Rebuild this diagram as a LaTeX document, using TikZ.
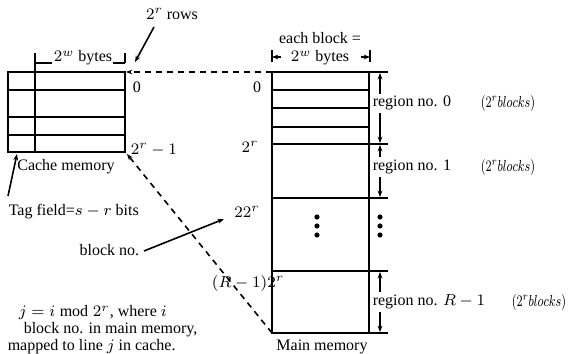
\documentclass[tikz,border=0pt]{standalone}
\usepackage{fontspec}
\setmainfont{Liberation Serif}
\usetikzlibrary{arrows.meta}
\begin{document}
\begin{tikzpicture}[x=0.5pt,y=-0.5pt, line width=0.8pt,
  lbl/.style={font=\fontsize{8}{9.6}\selectfont, inner sep=0pt},
  arr/.style={-{Stealth[length=3.2pt,width=2.4pt]}},
  dsh/.style={dash pattern=on 3pt off 2.5pt},
  dotc/.style={fill=black, draw=none}]
\useasboundingbox (0,0) rectangle (569,354);
% ---------- cache ----------
\coordinate (cTL) at (8,72);
\coordinate (cTR) at (125,72);
\coordinate (cBR) at (125,152);
\coordinate (cBL) at (8,152);
\draw (cTL) rectangle (cBR);
\foreach \yy in {90,117,135} \draw (8,\yy) -- (125,\yy);
\draw (35,53) -- (35,152);
\draw (125,53) -- (125,63);
\draw (35,63) -- (52,63);
\draw (113,63) -- (125,63);
\node[lbl] (cbytes) at (83,58) {$2^w$ bytes};
\node[lbl] (c0) at (137,87) {0};
\node[lbl, anchor=west] (clast) at (130,150) {$2^r-1$};
\node[lbl] (rows) at (172,14) {$2^r$ rows};
\coordinate (rowsS) at (154,27);
\coordinate (rowsT) at (135,62);
\draw[arr] (rowsS) -- (rowsT);
\node[lbl] (cachelbl) at (66,167) {Cache memory};
\coordinate (tagS) at (8,196);
\coordinate (tagT) at (17,154);
\draw[arr] (tagS) -- (tagT);
\node[lbl, anchor=west] (tag) at (8,212) {Tag field=$s-r$ bits};
% ---------- main memory ----------
\coordinate (mTL) at (272,72);
\coordinate (mBR) at (369,333);
\coordinate (mBL) at (272,333);
\draw (mTL) rectangle (mBR);
\foreach \yy in {90,108,127} \draw (272,\yy) -- (369,\yy);
\foreach \yy in {72,144,198,271,333} \draw (272,\yy) -- (388,\yy);
\node[lbl] (m0) at (257,87) {0};
\node[lbl] (m1) at (250,147) {$2^r$};
\node[lbl] (m2) at (247,212) {$22^r$};
\node[lbl, anchor=east] (m3) at (285,283) {$(R-1)2^r$};
\node[lbl] (mainlbl) at (322,347) {Main memory};
% each block
\node[lbl] (eb1) at (320,38) {each block =};
\node[lbl] (eb2) at (320,58) {$2^w$ bytes};
\draw (272,50) -- (272,62);
\draw (370,50) -- (370,62);
\draw[arr] (281,57) -- (272,57);
\draw[arr] (361,57) -- (370,57);
% dots
\foreach \yy in {217,226,235} {
  \fill[dotc] (317,\yy) circle (1.3pt);
  \fill[dotc] (380,\yy) circle (1.3pt);
}
% regions
\newcommand{\blk}{\scalebox{0.72}[1]{$(2^r blocks)$}}
\node[lbl, anchor=west] (r0) at (372,103) {region no. 0};
\node[lbl, anchor=west] (r0b) at (480,103) {\blk};
\node[lbl, anchor=west] (r1) at (372,167) {region no. 1};
\node[lbl, anchor=west] (r1b) at (480,167) {\blk};
\node[lbl, anchor=west] (rR) at (372,302) {region no. $R-1$};
\node[lbl, anchor=west] (rRb) at (511,302) {\blk};
\draw[arr] (380,94) -- (380,73);
\draw[arr] (380,113) -- (380,143);
\draw[arr] (380,157) -- (380,145);
\draw[arr] (380,177) -- (380,197);
\draw[arr] (380,292) -- (380,272);
\draw[arr] (380,312) -- (380,332);
% mapping lines
\draw[dsh, arr] (mTL) -- (126,72);
\draw[dsh, arr] (mBL) -- (127,154);
\node[lbl, anchor=east] (bno) at (140,250) {block no.};
\coordinate (bnoT) at (224,219);
\draw[arr] (bno.east) ++(4,1) -- (bnoT);
% note
\node[lbl, anchor=west] (n1) at (18,313) {$j=i \bmod 2^r$, where $i$};
\node[lbl, anchor=west] (n2) at (23,330) {block no. in main memory,};
\node[lbl, anchor=west] (n3) at (7,347) {mapped to line $j$ in cache.};
\end{tikzpicture}
\end{document}
